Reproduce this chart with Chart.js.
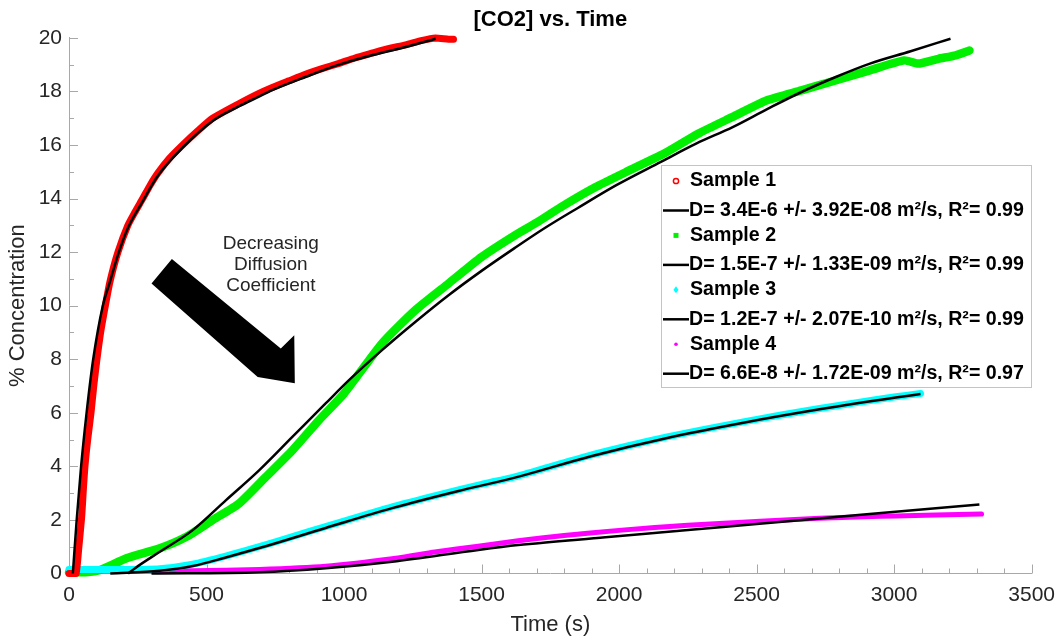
<!DOCTYPE html>
<html>
<head>
<meta charset="utf-8">
<script src="https://cdn.jsdelivr.net/npm/chart.js@4.4.0/dist/chart.umd.min.js"></script>
<style>
  html, body { margin: 0; padding: 0; background: #fff; }
</style>
</head>
<body>
<canvas id="co2" width="1064" height="640"></canvas>
<script>
// measured data (time in s, concentration in %)
const time1 = [0, 15, 26, 36, 46, 52, 58, 68, 80, 90, 101, 115, 131, 149, 178, 214, 240, 268, 295, 323, 365, 413, 465, 522, 619, 685, 739, 800, 862, 920, 982, 1040, 1101, 1160, 1224, 1280, 1333, 1380, 1398];
const conc1 = [0, 0, 0, 1.0, 2.1, 3.1, 4.0, 5.0, 6.0, 7.0, 7.95, 9.0, 9.94, 10.9, 12.0, 13.0, 13.5, 14.0, 14.5, 14.95, 15.5, 16.0, 16.5, 17.0, 17.55, 17.9, 18.15, 18.4, 18.65, 18.85, 19.05, 19.25, 19.43, 19.6, 19.74, 19.9, 20.0, 19.95, 19.95];

const time2 = [0, 60, 113, 209, 330, 427, 523, 619, 716, 813, 909, 1000, 1138, 1259, 1380, 1500, 1621, 1700, 1790, 1915, 2039, 2164, 2289, 2413, 2538, 2663, 2787, 2912, 3037, 3087, 3161, 3224, 3274];
const conc2 = [0.05, 0.05, 0.13, 0.57, 0.94, 1.37, 2.0, 2.62, 3.61, 4.61, 5.73, 6.72, 8.59, 9.83, 10.83, 11.82, 12.63, 13.1, 13.69, 14.43, 15.06, 15.68, 16.43, 17.05, 17.67, 18.04, 18.41, 18.79, 19.16, 19.04, 19.22, 19.35, 19.53];

const time3 = [0, 200, 330, 450, 570, 692, 810, 933, 1055, 1175, 1300, 1416, 1500, 1621, 1760, 1898, 2035, 2175, 2310, 2452, 2590, 2729, 2870, 3006, 3096];
const conc3 = [0.15, 0.15, 0.18, 0.35, 0.65, 1.0, 1.37, 1.75, 2.12, 2.49, 2.82, 3.12, 3.33, 3.61, 4.02, 4.42, 4.77, 5.1, 5.38, 5.66, 5.92, 6.16, 6.39, 6.6, 6.72];

const time4 = [0, 450, 692, 933, 1175, 1330, 1488, 1633, 1800, 2010, 2250, 2513, 2729, 2890, 3006, 3150, 3318];
const conc4 = [0.1, 0.1, 0.15, 0.27, 0.55, 0.8, 1.02, 1.22, 1.42, 1.62, 1.8, 1.95, 2.06, 2.12, 2.15, 2.18, 2.22];

// fitted diffusion curves
const fitTime1 = [14, 28, 44, 64, 88, 123, 149, 178, 214, 268, 323, 413, 522, 619, 685, 739, 862, 982, 1101, 1224, 1333];
const fitConc1 = [0, 2, 4, 6, 8, 10, 10.9, 11.9, 12.9, 13.9, 14.85, 15.9, 16.9, 17.45, 17.78, 18.05, 18.55, 19.0, 19.35, 19.66, 19.97];
const fitTime2 = [215, 239, 330, 450, 571, 692, 812, 933, 1018, 1138, 1260, 1380, 1500, 1620, 1730, 1850, 1990, 2152, 2280, 2413, 2540, 2663, 2790, 2912, 3060, 3205];
const fitConc2 = [0, 0.19, 0.81, 1.62, 2.74, 3.86, 5.1, 6.35, 7.22, 8.34, 9.4, 10.39, 11.3, 12.15, 12.9, 13.65, 14.5, 15.37, 16.05, 16.67, 17.35, 17.98, 18.55, 19.04, 19.5, 19.97];
const fitTime3 = [150, 330, 450, 570, 692, 933, 1175, 1416, 1621, 1898, 2175, 2452, 2729, 3006, 3096];
const fitConc3 = [0, 0.1, 0.28, 0.6, 0.95, 1.7, 2.44, 3.08, 3.58, 4.38, 5.06, 5.63, 6.13, 6.57, 6.7];
const fitTime4 = [300, 692, 933, 1175, 1488, 1633, 1950, 2261, 2500, 2890, 3310];
const fitConc4 = [0, 0.05, 0.2, 0.44, 0.88, 1.06, 1.35, 1.63, 1.85, 2.2, 2.58];

const sampleNames = ['Sample 1', 'Sample 2', 'Sample 3', 'Sample 4'];
const fitLabels = [
  'D= 3.4E-6 +/- 3.92E-08 m\u00B2/s, R\u00B2= 0.99',
  'D= 1.5E-7 +/- 1.33E-09 m\u00B2/s, R\u00B2= 0.99',
  'D= 1.2E-7 +/- 2.07E-10 m\u00B2/s, R\u00B2= 0.99',
  'D= 6.6E-8 +/- 1.72E-09 m\u00B2/s, R\u00B2= 0.97'
];
const sampleColors = ['#ff0000', '#00f000', '#00ffff', '#ff00ff'];
const markerStyles = ['ring', 'square', 'diamond', 'dot'];

// annotation arrow (data units) and its caption
const arrowTime = [374, 770, 819, 821, 686, 300];
const arrowConc = [11.74, 8.4, 8.9, 7.1, 7.34, 10.83];
const noteLines = ['Decreasing', 'Diffusion', 'Coefficient'];
const noteTime = 734;
const noteConc = [12.32, 11.51, 10.76];

const FONT = "'Liberation Sans', Arial, Helvetica, sans-serif";
const axisGray = '#a8a8a8';
const textGray = '#262626';

const pts = (xs, ys) => xs.map((v, i) => ({ x: v, y: ys[i] }));

function sampleSet(i, xs, ys, width, order) {
  return {
    label: sampleNames[i],
    data: pts(xs, ys),
    showLine: true,
    borderColor: sampleColors[i],
    backgroundColor: sampleColors[i],
    borderWidth: width,
    pointRadius: 0,
    tension: 0.2,
    borderJoinStyle: 'round',
    borderCapStyle: 'round',
    clip: false,
    order: order
  };
}
function fitSet(i, xs, ys) {
  return {
    label: fitLabels[i],
    data: pts(xs, ys),
    showLine: true,
    borderColor: '#000',
    backgroundColor: '#000',
    borderWidth: 2.5,
    pointRadius: 0,
    cubicInterpolationMode: 'monotone',
    clip: false,
    order: 1
  };
}

const innerTicks = {
  id: 'innerTicks',
  beforeDatasetsDraw(chart) {
    const { ctx, chartArea: a, scales: { x, y } } = chart;
    ctx.save();
    ctx.strokeStyle = axisGray;
    ctx.lineWidth = 1;
    ctx.beginPath();
    for (let v = 0; v <= 3500; v += 100) {
      const px = Math.round(x.getPixelForValue(v)) + 0.5;
      const len = v % 500 === 0 ? 9 : 5;
      ctx.moveTo(px, a.bottom);
      ctx.lineTo(px, a.bottom - len);
    }
    for (let v = 0; v <= 20; v += 1) {
      const py = Math.round(y.getPixelForValue(v)) + 0.5;
      const len = v % 2 === 0 ? 9 : 5;
      ctx.moveTo(a.left, py);
      ctx.lineTo(a.left + len, py);
    }
    ctx.stroke();
    ctx.restore();
  }
};

const arrowNote = {
  id: 'arrowNote',
  afterDatasetsDraw(chart) {
    const { ctx, scales: { x, y } } = chart;
    ctx.save();
    ctx.fillStyle = '#000';
    ctx.beginPath();
    arrowTime.forEach((t, i) => {
      const px = x.getPixelForValue(t), py = y.getPixelForValue(arrowConc[i]);
      if (i === 0) ctx.moveTo(px, py); else ctx.lineTo(px, py);
    });
    ctx.closePath();
    ctx.fill();
    ctx.fillStyle = textGray;
    ctx.font = '19px ' + FONT;
    ctx.textAlign = 'center';
    ctx.textBaseline = 'middle';
    noteLines.forEach((s, i) => ctx.fillText(s, x.getPixelForValue(noteTime), y.getPixelForValue(noteConc[i])));
    ctx.restore();
  }
};

const boxLegend = {
  id: 'boxLegend',
  afterDraw(chart) {
    const ctx = chart.ctx;
    const left = 661, top = 165, w = 370, h = 222;
    ctx.save();
    ctx.fillStyle = '#fff';
    ctx.fillRect(left, top, w, h);
    ctx.strokeStyle = '#c4c4c4';
    ctx.lineWidth = 1;
    ctx.strokeRect(left + 0.5, top + 0.5, w, h);
    ctx.font = 'bold 19.6px ' + FONT;
    ctx.textBaseline = 'middle';
    ctx.textAlign = 'left';
    for (let i = 0; i < 4; i++) {
      const ys = top + 16 + i * 54.4;
      const yf = top + 45.5 + i * 54.4;
      const mx = 676;
      ctx.fillStyle = sampleColors[i];
      ctx.strokeStyle = sampleColors[i];
      const st = markerStyles[i];
      if (st === 'ring') {
        ctx.lineWidth = 1.5;
        ctx.beginPath(); ctx.arc(mx, ys, 2.6, 0, Math.PI * 2); ctx.stroke();
      } else if (st === 'square') {
        ctx.fillRect(mx - 2.5, ys - 2.5, 5, 5);
      } else if (st === 'diamond') {
        ctx.beginPath();
        ctx.moveTo(mx, ys - 3.5); ctx.lineTo(mx + 2.5, ys); ctx.lineTo(mx, ys + 3.5); ctx.lineTo(mx - 2.5, ys);
        ctx.closePath(); ctx.fill();
      } else {
        ctx.beginPath(); ctx.arc(mx, ys, 1.8, 0, Math.PI * 2); ctx.fill();
      }
      ctx.strokeStyle = '#000';
      ctx.lineWidth = 2.5;
      ctx.beginPath(); ctx.moveTo(663, yf); ctx.lineTo(689, yf); ctx.stroke();
      ctx.fillStyle = '#000';
      ctx.fillText(sampleNames[i], 690, ys);
      ctx.fillText(fitLabels[i], 689, yf);
    }
    ctx.restore();
  }
};

new Chart(document.getElementById('co2'), {
  type: 'scatter',
  data: {
    datasets: [
      sampleSet(0, time1, conc1, 7, 2),
      fitSet(0, fitTime1, fitConc1),
      sampleSet(1, time2, conc2, 8.5, 4),
      fitSet(1, fitTime2, fitConc2),
      sampleSet(2, time3, conc3, 7, 2),
      fitSet(2, fitTime3, fitConc3),
      sampleSet(3, time4, conc4, 5, 3),
      fitSet(3, fitTime4, fitConc4)
    ]
  },
  options: {
    responsive: false,
    animation: false,
    devicePixelRatio: 1,
    layout: { padding: { left: 0, right: 28, top: 0, bottom: 0 } },
    plugins: {
      legend: { display: false },
      tooltip: { enabled: false },
      title: {
        display: true,
        fullSize: false,
        text: '[CO2] vs. Time',
        color: '#000',
        font: { family: FONT, size: 22, weight: 'bold' },
        padding: { top: 7, bottom: 4.5 }
      }
    },
    scales: {
      x: {
        type: 'linear',
        min: 0,
        max: 3500,
        afterFit: s => { s.height = 66.5; },
        grid: { display: false, drawTicks: false },
        border: { display: true, color: axisGray, width: 1 },
        ticks: { stepSize: 500, padding: 9, color: textGray, font: { family: FONT, size: 21 }, callback: v => String(v) },
        title: { display: true, text: 'Time (s)', color: textGray, font: { family: FONT, size: 22 }, padding: { top: 0, bottom: 2 } }
      },
      y: {
        min: 0,
        max: 20,
        afterFit: s => { s.width = 69; },
        grid: { display: false, drawTicks: false },
        border: { display: true, color: axisGray, width: 1 },
        ticks: { stepSize: 2, padding: 7, color: textGray, font: { family: FONT, size: 21 }, callback: v => String(v) },
        title: { display: true, text: '% Concentration', color: textGray, font: { family: FONT, size: 22 }, padding: { top: 5, bottom: 0 } }
      }
    }
  },
  plugins: [innerTicks, arrowNote, boxLegend]
});
</script>
</body>
</html>
